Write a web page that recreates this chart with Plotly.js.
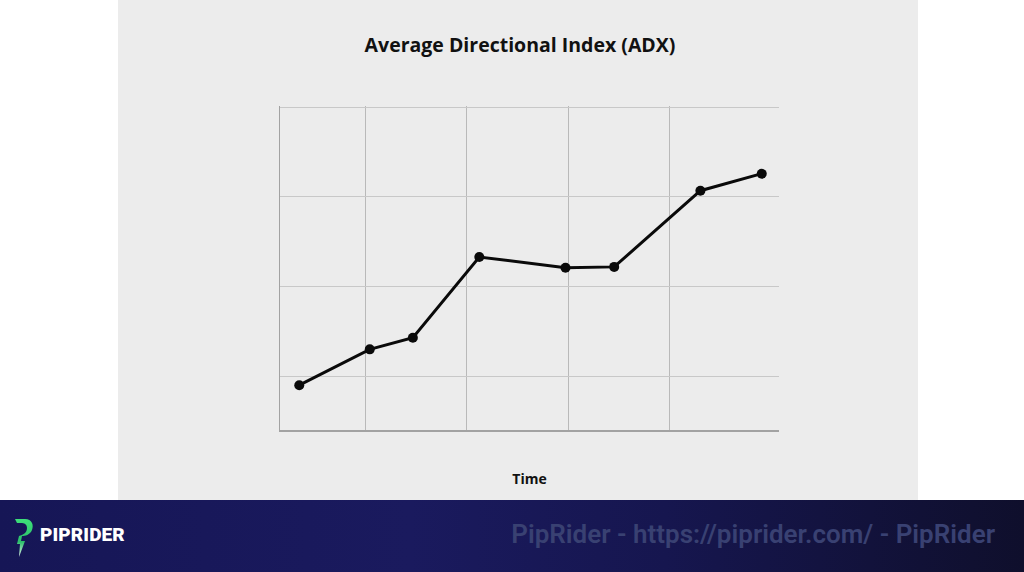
<!DOCTYPE html>
<html>
<head>
<meta charset="utf-8">
<script src="https://cdn.plot.ly/plotly-3.0.1.min.js"></script>
<style>
  html, body { margin: 0; padding: 0; background: #ffffff; width: 1024px; height: 572px; overflow: hidden; }
  #panel { position: absolute; left: 118px; top: 0; width: 800px; height: 500px; background: #ececec; }
  #banner { position: absolute; left: 0; top: 500px; width: 1024px; height: 72px;
            background: linear-gradient(90deg, #161656 0%, #1a1a5e 40%, #16164f 65%, #0f0f2c 100%); }
  #brand { position: absolute; left: 40px; top: 523px; font-family: Roboto, "Noto Sans", sans-serif;
           font-weight: 900; font-size: 19px; color: #ffffff; letter-spacing: 0.1px; }
  #logo { position: absolute; left: 13px; top: 517px; }
  #wm { position: absolute; right: 29px; top: 519px; font-family: Roboto, "Noto Sans", sans-serif;
        font-weight: 600; font-size: 26px; color: #394172; }
  #chart { position: absolute; left: 0; top: 0; width: 1024px; height: 572px; }
</style>
</head>
<body>
<div id="panel"></div>
<div id="banner"></div>
<svg id="logo" width="22" height="42" viewBox="0 0 22 42">
  <defs>
    <linearGradient id="g" x1="0" y1="0" x2="0" y2="1">
      <stop offset="0" stop-color="#3ee07a"/>
      <stop offset="0.6" stop-color="#2bbf6a"/>
      <stop offset="1" stop-color="#e8f5ee"/>
    </linearGradient>
  </defs>
  <path d="M2 2 L12 2 C19 2 21 8 19 13 C17 18 12 19 9 19 L8 24 L12 24 L6 40 L7 27 L4 27 L6 19 C10 18 14 16 14 11 C14 7 11 6 8 6 L4 6 Z" fill="url(#g)"/>
</svg>
<div id="brand">PIPRIDER</div>
<div id="wm">PipRider - https://piprider.com/ - PipRider</div>
<div id="chart"></div>
<script>
// Data
const timeValues = [0.70, 2.09, 2.94, 4.25, 5.95, 6.91, 8.61, 9.82];
const adxValues  = [9.0, 13.0, 14.3, 23.3, 22.1, 22.2, 30.7, 32.6];
const xGridTicks = [2, 4, 6, 8];
const yGridTicks = [10, 20, 30, 40];
const chartTitle = 'Average Directional Index (ADX)';
const xTitle = 'Time';

const trace = {
  x: timeValues,
  y: adxValues,
  type: 'scatter',
  mode: 'lines+markers',
  line: { color: '#0a0a0a', width: 3 },
  marker: { color: '#0a0a0a', size: 10 },
  hoverinfo: 'skip'
};

const layout = {
  width: 1024,
  height: 572,
  paper_bgcolor: 'rgba(0,0,0,0)',
  plot_bgcolor: 'rgba(0,0,0,0)',
  margin: { l: 280, r: 245, t: 106, b: 142, pad: 0 },
  showlegend: false,
  title: {
    text: chartTitle,
    font: { family: 'Open Sans, sans-serif', size: 19.5, color: '#111111', weight: 700 },
    x: 520 / 1024, xref: 'container', xanchor: 'center',
    y: 1 - 45 / 572, yref: 'container', yanchor: 'middle'
  },
  xaxis: {
    range: [0.32, 10.16],
    tickmode: 'array', tickvals: xGridTicks,
    showgrid: true, gridcolor: '#b9b9b9', gridwidth: 1,
    showline: true, linecolor: '#a2a2a2', linewidth: 1.5,
    zeroline: false, ticks: '', showticklabels: false,
    title: { text: xTitle, standoff: 43,
             font: { family: 'Open Sans, sans-serif', size: 14, color: '#111111', weight: 700 } },
    fixedrange: true
  },
  yaxis: {
    range: [4, 40.15],
    tickmode: 'array', tickvals: yGridTicks,
    showgrid: true, gridcolor: '#c8c8c8', gridwidth: 1,
    showline: true, linecolor: '#a2a2a2', linewidth: 1.5,
    zeroline: false, ticks: '', showticklabels: false,
    fixedrange: true
  }
};

Plotly.newPlot('chart', [trace], layout, { displayModeBar: false, staticPlot: true });
</script>
</body>
</html>
